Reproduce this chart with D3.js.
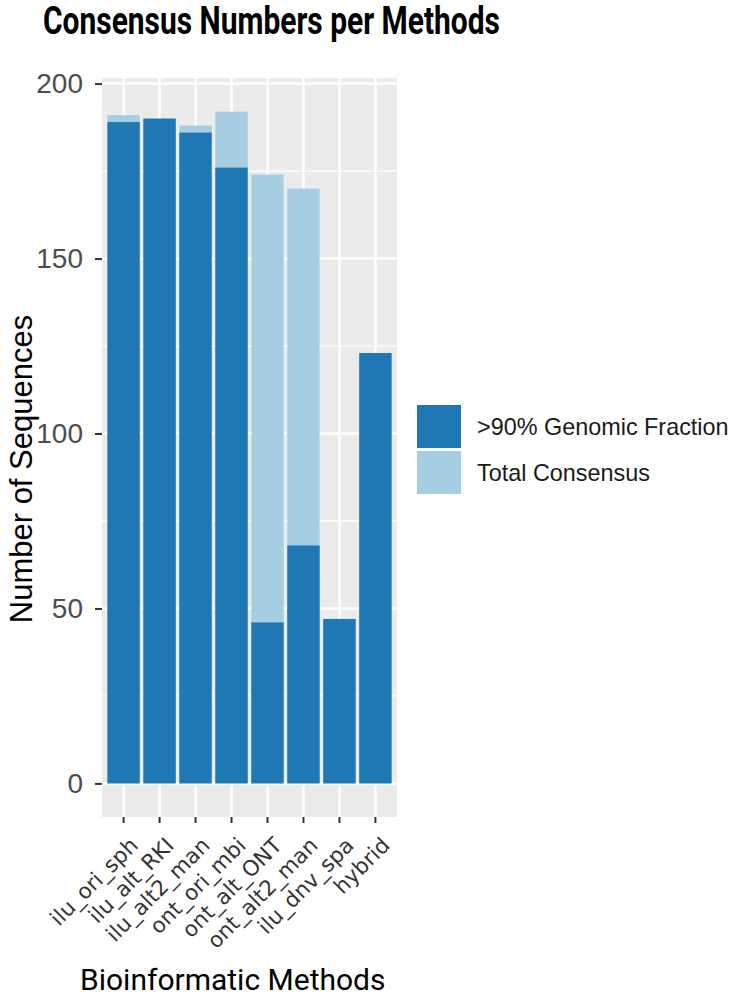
<!DOCTYPE html>
<html>
<head>
<meta charset="utf-8">
<script src="https://cdn.jsdelivr.net/npm/d3@7"></script>
<style>
  body { margin: 0; background: #fff; }
</style>
</head>
<body>
<div id="chart"></div>
<script>
const methods = ["ilu_ori_sph", "ilu_alt_RKI", "ilu_alt2_man", "ont_ori_mbi",
  "ont_alt_ONT", "ont_alt2_man", "ilu_dnv_spa", "hybrid"];
const totalConsensus = [191, 190, 188, 192, 174, 170, 47, 123];
const genomicFraction = [189, 190, 186, 176, 46, 68, 47, 123];
const legendLabels = [">90% Genomic Fraction", "Total Consensus"];
const yTicks = [0, 50, 100, 150, 200];
const yMinor = [25, 75, 125, 175];

const width = 734;
const height = 996;
const panel = { left: 102, right: 397, top: 78, bottom: 817 };
const dark = "#1F78B4";
const light = "#A6CEE3";

const svg = d3
  .select("#chart")
  .append("svg")
  .attr("width", width)
  .attr("height", height);

const x = d3
  .scaleBand()
  .domain(methods)
  .range([panel.left, panel.right])
  .paddingInner(0.1)
  .paddingOuter(0.15);

const yMax = d3.max(totalConsensus.concat(genomicFraction));
const y = d3
  .scaleLinear()
  .domain([-0.05 * yMax, yMax * 1.05])
  .range([panel.bottom, panel.top]);

// panel background + grid
svg
  .append("rect")
  .attr("x", panel.left)
  .attr("y", panel.top)
  .attr("width", panel.right - panel.left)
  .attr("height", panel.bottom - panel.top)
  .attr("fill", "#EBEBEB");

svg
  .selectAll("line.minor")
  .data(yMinor)
  .enter()
  .append("line")
  .attr("x1", panel.left)
  .attr("x2", panel.right)
  .attr("y1", (d) => y(d))
  .attr("y2", (d) => y(d))
  .attr("stroke", "#fff")
  .attr("stroke-width", 1.3);

svg
  .selectAll("line.major")
  .data(yTicks)
  .enter()
  .append("line")
  .attr("x1", panel.left)
  .attr("x2", panel.right)
  .attr("y1", (d) => y(d))
  .attr("y2", (d) => y(d))
  .attr("stroke", "#fff")
  .attr("stroke-width", 2.5);

svg
  .selectAll("line.vgrid")
  .data(methods)
  .enter()
  .append("line")
  .attr("x1", (d) => x(d) + x.bandwidth() / 2)
  .attr("x2", (d) => x(d) + x.bandwidth() / 2)
  .attr("y1", panel.top)
  .attr("y2", panel.bottom)
  .attr("stroke", "#fff")
  .attr("stroke-width", 2.5);

// bars: total first, then the >90% fraction on top
svg
  .selectAll("rect.total")
  .data(methods)
  .enter()
  .append("rect")
  .attr("x", (d) => x(d))
  .attr("width", x.bandwidth())
  .attr("y", (d, i) => y(totalConsensus[i]))
  .attr("height", (d, i) => y(0) - y(totalConsensus[i]))
  .attr("fill", light);

svg
  .selectAll("rect.frac")
  .data(methods)
  .enter()
  .append("rect")
  .attr("x", (d) => x(d))
  .attr("width", x.bandwidth())
  .attr("y", (d, i) => y(genomicFraction[i]))
  .attr("height", (d, i) => y(0) - y(genomicFraction[i]))
  .attr("fill", dark);

// y axis
const yAxis = svg
  .append("g")
  .attr("transform", `translate(${panel.left},0)`)
  .call(d3.axisLeft(y).tickValues(yTicks).tickSize(7).tickPadding(12));
yAxis.select(".domain").remove();
yAxis.selectAll(".tick line").attr("stroke", "#333").attr("stroke-width", 2);
yAxis
  .selectAll(".tick text")
  .attr("fill", "#4D4D4D")
  .style("font-family", "'Liberation Sans', Arial, sans-serif")
  .style("font-size", "28px");

// x axis
const xAxis = svg
  .append("g")
  .attr("transform", `translate(0,${panel.bottom})`)
  .call(d3.axisBottom(x).tickSize(6).tickPadding(4));
xAxis.select(".domain").remove();
xAxis.selectAll(".tick line").attr("stroke", "#333").attr("stroke-width", 2);
xAxis
  .selectAll(".tick text")
  .attr("fill", "#333")
  .attr("text-anchor", "end")
  .attr("dy", "0.7em")
  .attr("transform", "translate(-2,12) rotate(-45)")
  .style("font-family", "'DejaVu Sans', sans-serif")
  .style("font-size", "21.5px");

// titles
svg
  .append("text")
  .attr("x", 43)
  .attr("y", 34)
  .attr("textLength", 457)
  .attr("lengthAdjust", "spacingAndGlyphs")
  .style("font-family", "Roboto, sans-serif")
  .style("font-weight", "bold")
  .style("font-size", "38px")
  .text("Consensus Numbers per Methods");

svg
  .append("text")
  .attr("x", 80)
  .attr("y", 990)
  .style("font-family", "Roboto, sans-serif")
  .style("font-size", "30px")
  .text("Bioinformatic Methods");

svg
  .append("text")
  .attr("transform", "translate(32,469) rotate(-90)")
  .attr("text-anchor", "middle")
  .style("font-family", "'Liberation Sans', Arial, sans-serif")
  .style("font-size", "31px")
  .text("Number of Sequences");

// legend
const legend = svg.append("g").attr("transform", "translate(417,405)");
const legendColors = [dark, light];
legend
  .selectAll("rect")
  .data(legendLabels)
  .enter()
  .append("rect")
  .attr("x", 0)
  .attr("y", (d, i) => i * 46)
  .attr("width", 44)
  .attr("height", 43)
  .attr("fill", (d, i) => legendColors[i]);
legend
  .selectAll("text")
  .data(legendLabels)
  .enter()
  .append("text")
  .attr("x", 60)
  .attr("y", (d, i) => i * 46 + 21.5)
  .attr("dy", "0.35em")
  .style("font-family", "'Liberation Sans', Arial, sans-serif")
  .style("font-size", "23.4px")
  .attr("fill", "#1a1a1a")
  .text((d) => d);
</script>
</body>
</html>
